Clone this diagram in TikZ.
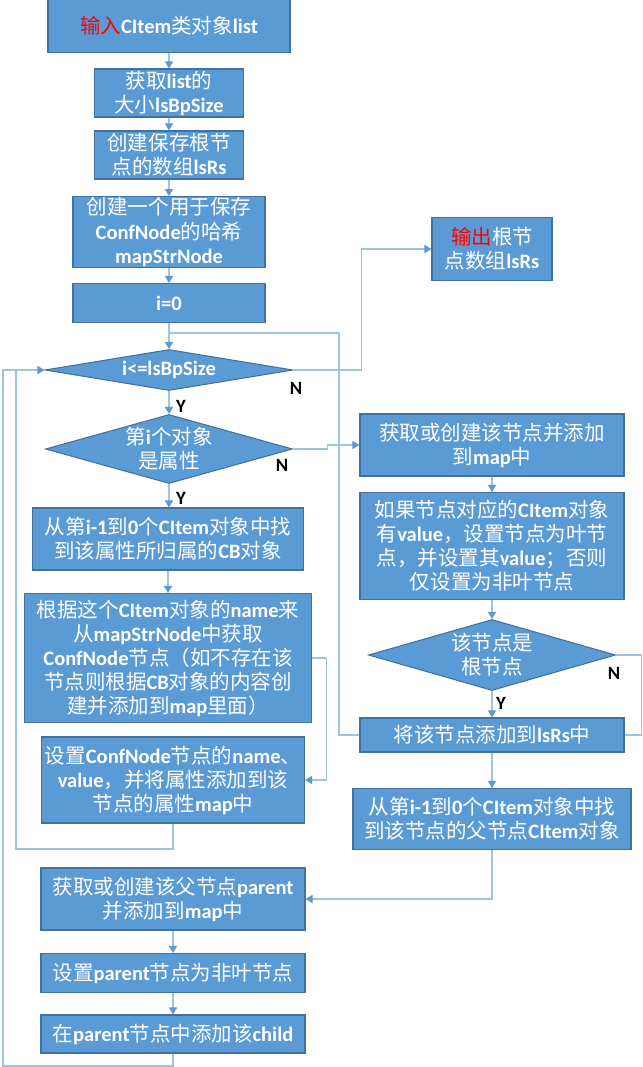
\documentclass[tikz,border=0pt]{standalone}
\usepackage{fontspec}
\setmainfont{Noto Sans CJK SC}
\newfontfamily\latfont{Carlito}
\usepackage{tikz}
\usetikzlibrary{shapes.geometric}
\usetikzlibrary{arrows.meta}
\definecolor{boxfill}{HTML}{5B9BD5}
\definecolor{boxedge}{HTML}{41719C}
\definecolor{wirecol}{HTML}{9DC3E6}
\newcommand{\EN}[1]{{\latfont\bfseries #1}}
\newcommand{\RED}[1]{\textcolor{red}{#1}}

\tikzset{
  box/.style={draw=boxedge, fill=boxfill, text=white, align=center, line width=0.9pt,
    inner sep=1pt, font=\fontsize{17.5}{20.5}\selectfont},
  test/.style={diamond, draw=boxedge, fill=boxfill, line width=0.9pt, inner sep=0pt},
  txt/.style={text=white, align=center, inner sep=0pt, font=\fontsize{17.5}{20.5}\selectfont},
  yn/.style={inner sep=0pt, font=\latfont\bfseries\fontsize{16}{18}\selectfont},
  wire/.style={draw=wirecol, line width=0.9pt}
}

\begin{document}
\begin{tikzpicture}[x=0.03cm, y=-0.03cm, >={Triangle[width=7pt,length=6pt,color=boxfill]}]
    \useasboundingbox (0,0) rectangle (642,1067);

    % left column
    \node[box, minimum width=7.26cm, minimum height=1.59cm] (b1) at (169,26) {\RED{输入}\EN{CItem}类对象\EN{list}};
    \node[box, minimum width=4.47cm, minimum height=1.44cm] (b2) at (169,93) {获取\EN{list}的\\大小\EN{lsBpSize}};
    \node[box, minimum width=4.47cm, minimum height=1.44cm] (b3) at (169,155) {创建保存根节\\点的数组\EN{lsRs}};
    \node[box, minimum width=5.76cm, minimum height=2.1cm] (b4) at (169,232) {创建一个用于保存\\\EN{ConfNode}的哈希\\\EN{mapStrNode}};
    \node[box, minimum width=5.76cm, minimum height=1.17cm] (b5) at (169,303) {\EN{i=0}};

    \node[test, minimum width=7.44cm, minimum height=1.23cm] (d6) at (169,370) {};
    \node[txt] (d6t) at (d6) {\EN{i<=lsBpSize}};
    \node[test, minimum width=7.41cm, minimum height=2.07cm] (d7) at (169,449) {};
    \node[txt] (d7t) at (d7) {第\EN{i}个对象\\是属性};

    \node[box, minimum width=8.13cm, minimum height=1.86cm] (b8) at (168,539) {从第\EN{i-1}到\EN{0}个\EN{CItem}对象中找\\到该属性所归属的\EN{CB}对象};
    \node[box, minimum width=8.61cm, minimum height=3.87cm] (b9) at (168,658) {根据这个\EN{CItem}对象的\EN{name}来\\从\EN{mapStrNode}中获取\\\EN{ConfNode}节点（如不存在该\\节点则根据\EN{CB}对象的内容创\\建并添加到\EN{map}里面）};
    \node[box, minimum width=7.89cm, minimum height=2.58cm] (b10) at (173,780) {设置\EN{ConfNode}节点的\EN{name}、\\\EN{value}，并将属性添加到该\\节点的属性\EN{map}中};

    % right column
    \node[box, minimum width=3.6cm, minimum height=1.89cm] (b11) at (492,249) {\RED{输出}根节\\点数组\EN{lsRs}};
    \node[box, minimum width=7.92cm, minimum height=1.86cm] (b12) at (492,445) {获取或创建该节点并添加\\到\EN{map}中};
    \node[box, minimum width=7.92cm, minimum height=3.21cm] (b13) at (492,546) {如果节点对应的\EN{CItem}对象\\有\EN{value}，设置节点为叶节\\点，并设置其\EN{value}；否则\\仅设置为非叶节点};
    \node[test, minimum width=7.41cm, minimum height=2.13cm] (d14) at (492,655) {};
    \node[txt] (d14t) at (d14) {该节点是\\根节点};
    \node[box, minimum width=7.92cm, minimum height=1.02cm] (b15) at (492,735) {将该节点添加到\EN{lsRs}中};
    \node[box, minimum width=8.34cm, minimum height=1.83cm] (b16) at (492,819) {从第\EN{i-1}到\EN{0}个\EN{CItem}对象中找\\到该节点的父节点\EN{CItem}对象};

    % bottom
    \node[box, minimum width=7.92cm, minimum height=1.86cm] (b17) at (173,899) {获取或创建该父节点\EN{parent}\\并添加到\EN{map}中};
    \node[box, minimum width=7.92cm, minimum height=1.17cm] (b18) at (173,973) {设置\EN{parent}节点为非叶节点};
    \node[box, minimum width=7.92cm, minimum height=1.14cm] (b19) at (173,1034) {在\EN{parent}节点中添加该\EN{child}};

    % straight arrows
    \foreach \a/\b in {b1/b2, b2/b3, b3/b4, b4/b5, b5/d6, d6/d7, d7/b8, b8/b9,
                       b12/b13, b13/d14, d14/b15, b15/b16, b17/b18, b18/b19} {
        \draw[wire,->] (\a.south) -- (\a.south |- \b.north);
    }

    % branches
    \draw[wire,->] (d6.east) -- ++(68,0) |- (b11.west);
    \draw[wire,->] (d7.east) -- ++(34,0) |- (b12.west);
    \draw[wire,->] (b9.east) -- ++(14,0) |- (b10.east);
    \draw[wire] (d14.east) -- ++(25,0) |- (b15.east);
    \draw[wire,->] (b16.south) |- (b17.east);

    % loops back to the test
    \coordinate (ret) at (339,333);
    \coordinate (bot) at (3,1066);
    \coordinate (inn) at (16,849);
    \draw[wire] (b15.west) -| (ret) -- (ret -| b5.south);
    \draw[wire,->] (b19.south) |- (bot) |- (d6.west);
    \draw[wire] (b10.south) |- (inn) -- (inn |- d6.west);

    % Y / N
    \node[yn] (ya) at (181,406) {Y};
    \node[yn] (yb) at (181,498) {Y};
    \node[yn] (yc) at (501,703) {Y};
    \node[yn] (na) at (296,388) {N};
    \node[yn] (nb) at (282,465) {N};
    \node[yn] (nc) at (614,673) {N};
\end{tikzpicture}
\end{document}
